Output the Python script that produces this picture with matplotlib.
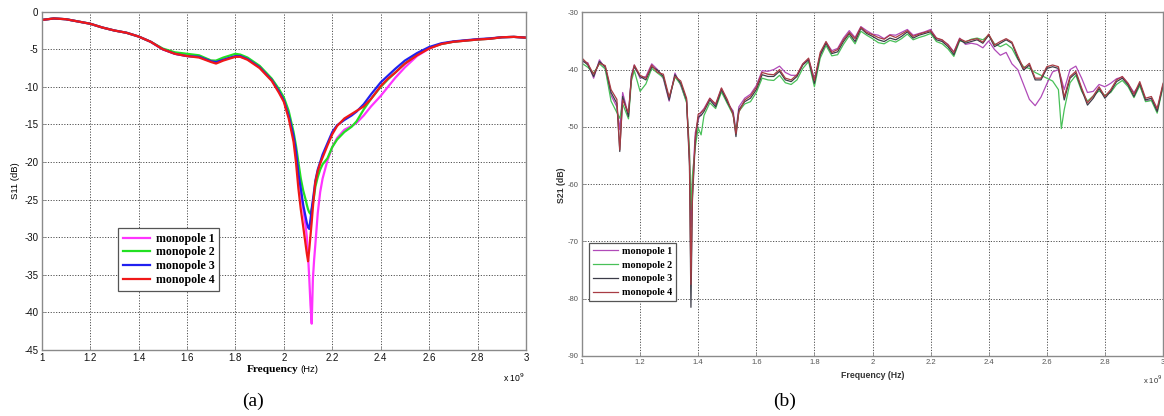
import matplotlib
matplotlib.use("Agg")
import matplotlib.pyplot as plt

# ---------------- data: panel (a) S11 ----------------
FREQ_A = [1.00, 1.05, 1.10, 1.15, 1.20, 1.25, 1.30, 1.35, 1.40, 1.45, 1.50, 1.55, 1.60, 1.65,
          1.70, 1.72, 1.75, 1.78, 1.80, 1.82, 1.85, 1.90, 1.95, 1.98, 2.00, 2.02, 2.04, 2.05,
          2.06, 2.07, 2.08, 2.09, 2.095, 2.10, 2.105, 2.11, 2.115, 2.12, 2.125, 2.13, 2.14,
          2.15, 2.16, 2.18, 2.20, 2.22, 2.25, 2.28, 2.30, 2.33, 2.36, 2.40, 2.43, 2.46, 2.50,
          2.55, 2.60, 2.65, 2.70, 2.75, 2.80, 2.85, 2.90, 2.95, 3.00]

S11_M1 = [-1.1, -0.9, -1.0, -1.3, -1.6, -2.1, -2.5, -2.8, -3.3, -4.0, -5.0, -5.6, -5.9, -6.0,
          -6.5, -6.6, -6.3, -6.1, -6.0, -6.0, -6.3, -7.3, -9.0, -10.5, -11.7, -13.8, -16.8, -19.0,
          -21.8, -24.0, -26.2, -28.5, -30.0, -32.5, -35.5, -39.0, -41.5, -35.5, -33.0, -31.0, -26.8,
          -24.0, -22.2, -19.8, -18.0, -16.8, -15.7, -15.2, -14.8, -13.8, -12.6, -11.2, -10.0, -8.8, -7.4,
          -5.9, -4.9, -4.3, -4.0, -3.85, -3.7, -3.6, -3.4, -3.35, -3.45]
S11_M2 = [-1.1, -0.9, -1.0, -1.3, -1.6, -2.1, -2.5, -2.8, -3.3, -4.0, -4.9, -5.4, -5.6, -5.8,
          -6.5, -6.5, -6.1, -5.8, -5.6, -5.7, -6.1, -7.2, -8.9, -10.3, -11.4, -13.2, -16.0, -17.8,
          -20.0, -22.2, -23.8, -25.0, -25.7, -26.3, -26.7, -26.9, -26.3, -25.5, -24.5, -23.3, -22.0,
          -21.0, -20.3, -19.5, -18.0, -17.0, -16.0, -15.3, -14.6, -13.0, -11.6, -10.0, -9.0, -8.1, -6.9,
          -5.7, -4.8, -4.3, -4.0, -3.85, -3.7, -3.6, -3.4, -3.35, -3.45]
S11_M3 = [-1.1, -0.9, -1.0, -1.3, -1.6, -2.1, -2.5, -2.8, -3.3, -4.0, -5.0, -5.6, -5.9, -6.0,
          -6.6, -6.7, -6.4, -6.1, -5.9, -5.9, -6.3, -7.4, -9.1, -10.6, -11.8, -13.8, -16.5, -18.5,
          -21.5, -23.5, -25.7, -27.3, -28.1, -28.7, -28.9, -27.6, -26.2, -25.0, -23.8, -22.5, -21.0,
          -20.0, -19.0, -17.5, -16.0, -15.1, -14.4, -13.8, -13.3, -12.3, -11.0, -9.4, -8.5, -7.6, -6.5,
          -5.5, -4.7, -4.2, -3.95, -3.8, -3.65, -3.55, -3.4, -3.35, -3.45]
S11_M4 = [-1.1, -0.9, -1.0, -1.3, -1.6, -2.1, -2.5, -2.8, -3.3, -4.0, -5.0, -5.6, -5.9, -6.1,
          -6.7, -6.9, -6.5, -6.2, -6.0, -6.0, -6.4, -7.5, -9.2, -10.8, -12.0, -14.2, -17.3, -20.0,
          -23.5, -26.3, -28.6, -31.0, -32.2, -33.2, -31.6, -29.8, -28.0, -26.0, -24.2, -22.7, -21.2,
          -20.2, -19.4, -17.8, -16.3, -15.2, -14.2, -13.6, -13.2, -12.6, -11.6, -9.9, -8.9, -8.1, -6.9,
          -5.8, -4.9, -4.3, -4.0, -3.85, -3.7, -3.6, -3.4, -3.35, -3.45]

# ---------------- data: panel (b) S21 ----------------
FREQ_B = [1.00, 1.02, 1.04, 1.06, 1.08, 1.10, 1.12, 1.13, 1.14, 1.16, 1.17, 1.18,
          1.20, 1.22, 1.24, 1.26, 1.28, 1.30, 1.32, 1.34, 1.36, 1.37, 1.375, 1.38, 1.39,
          1.40, 1.41, 1.42, 1.44, 1.46, 1.48, 1.50, 1.52, 1.53,
          1.54, 1.56, 1.58, 1.60, 1.62, 1.64, 1.66, 1.68, 1.70, 1.72, 1.74, 1.76, 1.78,
          1.80, 1.82, 1.84, 1.86, 1.88, 1.90, 1.92, 1.94, 1.96, 1.98, 2.00, 2.02, 2.04,
          2.06, 2.08, 2.10, 2.12, 2.14, 2.16, 2.18, 2.20, 2.22, 2.24, 2.26, 2.28, 2.30,
          2.32, 2.34, 2.36, 2.38, 2.40, 2.42, 2.44, 2.46, 2.48, 2.50, 2.52, 2.54, 2.56,
          2.58, 2.60, 2.62, 2.64, 2.65, 2.66, 2.68, 2.70, 2.72, 2.74, 2.76, 2.78, 2.80,
          2.82, 2.84, 2.86, 2.88, 2.90, 2.92, 2.94, 2.96, 2.98, 3.00]

S21_M1 = [-38.6, -38.8, -41.5, -38.3, -39.8, -44.5, -46.5, -50.5, -44.0, -48.0, -41.0, -39.2,
          -41.5, -41.2, -39.0, -40.0, -41.6, -45.5, -40.6, -42.8, -45.6, -55.0, -67.5, -60.0, -51.0,
          -48.8, -47.4, -46.8, -45.0, -46.2, -43.3, -45.8, -47.2, -50.5,
          -46.5, -45.0, -44.3, -42.8, -40.2, -40.3, -40.0, -39.4, -40.5, -41.0, -41.0, -39.0, -38.2,
          -41.6, -37.6, -35.2, -36.7, -36.3, -34.5, -33.2, -34.4, -32.5, -33.2, -33.8, -34.0, -34.6,
          -33.9, -34.0, -33.5, -33.0, -34.0, -33.7, -33.4, -33.0, -34.5, -34.9, -35.6, -36.9, -34.5,
          -35.6, -35.4, -35.6, -36.2, -35.0, -36.5, -37.5, -37.0, -39.0, -40.0, -42.6, -45.2, -46.3,
          -44.8, -42.5, -40.4, -40.0, -41.6, -43.5, -40.0, -39.4, -41.5, -44.0, -43.8, -42.6, -43.0,
          -42.4, -41.6, -41.3, -42.5, -44.0, -42.6, -45.5, -45.3, -47.0, -42.9]
S21_M2 = [-38.9, -39.6, -40.6, -39.0, -39.9, -45.5, -47.5, -48.5, -46.0, -48.6, -42.0, -40.2,
          -43.8, -42.5, -39.8, -40.6, -41.4, -45.0, -41.3, -42.6, -45.8, -54.0, -64.5, -58.5, -53.5,
          -50.2, -51.4, -48.0, -45.8, -46.8, -43.9, -45.9, -47.9, -50.8,
          -47.3, -46.0, -45.6, -44.0, -41.5, -41.8, -41.9, -41.0, -42.3, -42.6, -41.8, -39.8, -38.6,
          -43.0, -38.0, -35.8, -37.6, -37.4, -35.6, -34.1, -35.5, -33.3, -34.0, -34.6, -35.3, -35.5,
          -34.9, -35.2, -34.6, -33.8, -34.8, -34.4, -34.1, -33.7, -35.1, -35.5, -36.4, -37.7, -35.0,
          -35.2, -34.7, -34.5, -34.8, -34.0, -35.5, -36.0, -35.5, -36.3, -38.2, -39.5, -39.8, -40.5,
          -41.0, -41.5, -42.0, -43.5, -50.3, -47.0, -42.3, -41.0, -43.8, -45.5, -44.6, -43.7, -44.5,
          -44.0, -42.6, -41.9, -43.0, -44.9, -42.8, -45.6, -45.4, -47.6, -43.0]
S21_M3 = [-38.3, -39.2, -41.2, -38.6, -39.5, -44.0, -45.9, -54.3, -44.7, -48.2, -41.2, -39.5,
          -41.2, -41.8, -39.5, -40.1, -41.2, -45.3, -40.9, -42.4, -45.3, -56.9, -81.5, -63.0, -52.5,
          -48.3, -48.0, -47.3, -45.3, -46.5, -43.5, -45.6, -47.6, -51.7,
          -47.0, -45.6, -45.0, -43.5, -40.9, -41.2, -41.2, -40.3, -41.8, -42.1, -41.2, -39.2, -38.3,
          -42.4, -37.4, -35.4, -37.2, -36.9, -35.1, -33.7, -35.1, -32.8, -33.7, -34.2, -34.8, -35.1,
          -34.5, -34.8, -34.2, -33.4, -34.5, -34.0, -33.7, -33.4, -34.8, -35.1, -36.0, -37.4, -34.8,
          -35.4, -35.1, -34.8, -35.4, -34.0, -36.0, -35.4, -34.8, -35.4, -38.0, -40.1, -39.2, -41.8,
          -41.8, -39.8, -39.5, -39.8, -42.5, -45.3, -41.5, -40.6, -43.5, -46.2, -45.0, -43.3, -45.0,
          -43.8, -42.1, -41.5, -42.7, -44.7, -42.4, -45.3, -45.0, -47.3, -42.7]
S21_M4 = [-38.0, -39.0, -40.8, -38.9, -39.3, -43.5, -45.2, -54.0, -45.3, -47.5, -41.6, -39.2,
          -41.0, -41.5, -39.2, -40.5, -40.8, -44.8, -41.2, -42.0, -45.0, -56.0, -77.5, -62.0, -51.8,
          -47.8, -47.5, -47.0, -45.0, -46.0, -43.2, -45.2, -47.8, -51.2,
          -47.4, -45.3, -44.6, -43.1, -40.5, -40.8, -40.9, -40.0, -41.5, -41.8, -40.9, -39.0, -38.0,
          -41.9, -37.0, -35.1, -37.0, -36.5, -34.8, -33.5, -34.6, -32.6, -33.5, -33.9, -34.4, -34.7,
          -34.0, -34.4, -33.8, -33.2, -34.2, -33.8, -33.5, -33.2, -34.5, -34.8, -35.7, -37.0, -34.6,
          -35.1, -34.8, -34.6, -35.2, -33.8, -35.7, -35.1, -34.6, -35.2, -37.6, -39.8, -38.9, -41.5,
          -41.5, -39.5, -39.2, -39.5, -42.0, -44.8, -41.2, -40.3, -43.2, -45.8, -44.6, -43.0, -44.7,
          -43.5, -41.8, -41.2, -42.4, -44.3, -42.1, -45.0, -44.7, -46.8, -42.4]

LABELS = ["monopole 1", "monopole 2", "monopole 3", "monopole 4"]
XTICKS = [1.0, 1.2, 1.4, 1.6, 1.8, 2.0, 2.2, 2.4, 2.6, 2.8, 3.0]
XTICKLABELS = ["1", "1.2", "1.4", "1.6", "1.8", "2", "2.2", "2.4", "2.6", "2.8", "3"]
YTICKS_A = [0, -5, -10, -15, -20, -25, -30, -35, -40, -45]
YTICKS_B = [-30, -40, -50, -60, -70, -80, -90]

COLORS_A = ["#ff33ff", "#22e022", "#2020f0", "#f01818"]
COLORS_B = ["#b04ab8", "#48c058", "#3c3c48", "#a83c44"]

W, H = 1164, 416
fig = plt.figure(figsize=(W / 100, H / 100), dpi=100)
fig.patch.set_facecolor("white")

SANS = "Liberation Sans"
SERIF = "Liberation Serif"


def px_axes(x0, y0, x1, y1):
    return fig.add_axes([x0 / W, 1 - y1 / H, (x1 - x0) / W, (y1 - y0) / H])


def style(ax, fs, tcol, frame):
    for s in ax.spines.values():
        s.set_color(frame)
        s.set_linewidth(1.0)
    ax.set_axisbelow(True)
    ax.grid(True, color="#505050", linestyle=(0, (1.2, 1.6)), linewidth=0.7)
    ax.tick_params(direction="in", length=3, width=0.6, color=frame,
                   labelsize=fs, labelcolor=tcol, pad=2.5)
    for lab in ax.get_xticklabels() + ax.get_yticklabels():
        lab.set_fontfamily(SANS)


# ---------------- panel (a) ----------------
axa = px_axes(41.7, 11.7, 526, 350)
for y, c, l in zip([S11_M1, S11_M2, S11_M3, S11_M4], COLORS_A, LABELS):
    axa.plot(FREQ_A, y, color=c, lw=1.6, label=l)
axa.set_xlim(1, 3)
axa.set_ylim(-45, 0)
axa.set_xticks(XTICKS)
axa.set_xticklabels(XTICKLABELS)
axa.set_yticks(YTICKS_A)
axa.set_yticklabels([str(v) for v in YTICKS_A])
style(axa, 7, "#111111", "#8a8a8a")
leg = axa.legend(loc="upper left", bbox_to_anchor=((118 - 41.7) / 484.3, (350 - 228) / 338.3),
                 borderaxespad=0, prop={"family": SERIF, "weight": "bold", "size": 8.6},
                 handlelength=2.3, handletextpad=0.45, labelspacing=0.14, borderpad=0.4,
                 fancybox=False, framealpha=1)
leg.get_frame().set_edgecolor("#555555")
leg.get_frame().set_linewidth(0.9)

fig.text(299 / W, 1 - 369 / H, "Frequency", family=SERIF, weight="bold", size=8.2,
         ha="right", va="center")
fig.text(300 / W, 1 - 369.5 / H, "(Hz)", family=SANS, size=6.8, ha="left", va="center")
fig.text(503 / W, 1 - 378 / H, r"x 10$^{9}$", family=SANS, size=6.2, ha="left", va="center")
fig.text(15 / W, 1 - 181 / H, "S11 (dB)", family=SANS, size=6.8, rotation=90,
         ha="center", va="center")
fig.text(253 / W, 1 - 401 / H, "(a)", family=SERIF, size=14, ha="center", va="center")

# ---------------- panel (b) ----------------
axb = px_axes(582, 12.3, 1163, 356)
for y, c, l in zip([S21_M1, S21_M2, S21_M3, S21_M4], COLORS_B, LABELS):
    axb.plot(FREQ_B, y, color=c, lw=0.9, label=l)
axb.set_xlim(1, 3)
axb.set_ylim(-90, -30)
axb.set_xticks(XTICKS)
axb.set_xticklabels(XTICKLABELS)
axb.set_yticks(YTICKS_B)
axb.set_yticklabels([str(v) for v in YTICKS_B])
style(axb, 5.5, "#555555", "#8a8a8a")
legb = axb.legend(loc="upper left", bbox_to_anchor=((589.3 - 582) / 581, (356 - 242.7) / 343.7),
                  borderaxespad=0, prop={"family": SERIF, "weight": "bold", "size": 7.3},
                  handlelength=2.4, handletextpad=0.4, labelspacing=0.46, borderpad=0.4,
                  fancybox=False, framealpha=1)
legb.get_frame().set_edgecolor("#555555")
legb.get_frame().set_linewidth(0.9)

fig.text(872.5 / W, 1 - 376 / H, "Frequency (Hz)", family=SANS, weight="bold", size=6.3,
         color="#333333", ha="center", va="center")
fig.text(1143 / W, 1 - 380 / H, r"x 10$^{9}$", family=SANS, size=5.5, color="#333333",
         ha="left", va="center")
fig.text(561 / W, 1 - 185 / H, "S21 (dB)", family=SANS, weight="bold", size=6.3,
         color="#333333", rotation=90, ha="center", va="center")
fig.text(785 / W, 1 - 401 / H, "(b)", family=SERIF, size=14, ha="center", va="center")

fig.savefig("out.png", dpi=100, facecolor="white")
